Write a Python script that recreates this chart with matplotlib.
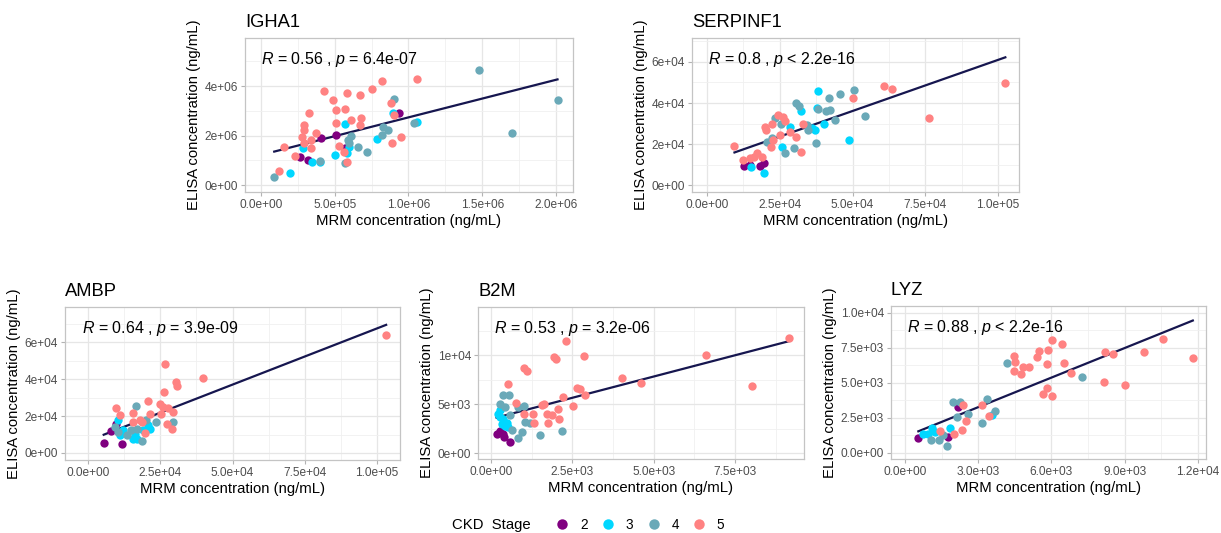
import numpy as np
import matplotlib
matplotlib.use("Agg")
from matplotlib import pyplot as plt
from matplotlib.lines import Line2D
from matplotlib.ticker import AutoMinorLocator

plt.rcParams["font.family"] = ["Liberation Sans", "DejaVu Sans"]
plt.rcParams["mathtext.fontset"] = "custom"
plt.rcParams["mathtext.rm"] = "Liberation Sans"
plt.rcParams["mathtext.it"] = "Liberation Sans:italic"

# CKD stages and their colours
stages = [2, 3, 4, 5]
stage_colors = {2: "#800080", 3: "#00D7FF", 4: "#6AA9B8", 5: "#FF8282"}

# IGHA1 (units of 1e6 ng/mL)
igha1_mrm = {
    2: [0.264, 0.32, 0.41, 0.506, 0.57, 0.935],
    3: [0.197, 0.287, 0.343, 0.40, 0.50, 0.57, 0.58, 0.60, 0.79, 0.897, 1.055],
    4: [0.09, 0.40, 0.57, 0.59, 0.61, 0.60, 0.66, 0.72, 0.82, 0.83, 0.86,
        0.90, 1.04, 1.48, 1.70, 2.01],
    5: [0.158, 0.124, 0.23, 0.325, 0.29, 0.295, 0.28, 0.29, 0.34, 0.34, 0.37,
        0.43, 0.49, 0.51, 0.57, 0.51, 0.53, 0.56, 0.58, 0.585, 0.61, 0.67,
        0.68, 0.67, 0.75, 0.82, 0.88, 0.89, 0.90, 0.95, 1.055],
}
igha1_elisa = {
    2: [1.14, 1.01, 1.89, 2.02, 1.48, 2.90],
    3: [0.47, 1.48, 0.92, 0.92, 1.20, 2.46, 1.28, 1.55, 1.87, 2.90, 2.56],
    4: [0.34, 0.98, 0.88, 1.82, 1.98, 1.68, 1.55, 1.35, 2.02, 2.36, 2.22,
        3.46, 2.49, 4.65, 2.11, 3.43],
    5: [1.55, 0.57, 1.17, 2.93, 2.42, 2.22, 1.93, 1.68, 1.82, 1.48, 2.11,
        3.81, 3.43, 3.03, 3.06, 2.49, 1.58, 1.35, 3.70, 0.94, 2.63, 3.64,
        2.69, 2.42, 3.90, 4.20, 3.33, 1.71, 2.83, 1.93, 4.28],
}

# SERPINF1 (units of 1e4 ng/mL)
serpinf1_mrm = {
    2: [1.26, 1.49, 1.81, 1.97],
    3: [1.51, 1.95, 2.58, 2.84, 3.24, 3.61, 3.72, 3.78, 3.80, 4.01, 4.87],
    4: [2.06, 2.23, 2.35, 2.54, 2.66, 2.98, 3.04, 3.15, 3.44, 3.46, 3.73,
        3.80, 4.10, 4.22, 4.20, 4.38, 4.56, 5.04, 5.44],
    5: [0.94, 1.24, 1.49, 1.72, 1.60, 1.89, 2.00, 2.04, 2.18, 2.23, 2.27,
        2.44, 2.50, 2.61, 2.66, 2.86, 3.07, 3.23, 3.30, 5.00, 6.08, 6.36,
        7.62, 10.25],
}
serpinf1_elisa = {
    2: [0.92, 0.97, 0.94, 1.09],
    3: [0.89, 0.60, 1.86, 2.84, 3.62, 2.76, 2.68, 3.78, 4.59, 2.97, 2.19],
    4: [2.11, 2.27, 3.29, 3.00, 1.54, 1.83, 4.00, 3.84, 2.92, 2.68, 2.06,
        3.73, 3.60, 3.68, 4.26, 3.19, 4.43, 4.65, 3.37],
    5: [1.90, 1.22, 1.30, 1.54, 1.38, 1.38, 2.84, 2.68, 1.86, 3.00, 2.19,
        3.40, 2.43, 3.32, 3.13, 2.59, 2.35, 1.62, 3.00, 4.26, 4.82, 4.70,
        3.28, 4.98],
}

# AMBP (units of 1e4 ng/mL)
ambp_mrm = {
    2: [0.54, 0.81, 1.16, 0.98],
    3: [1.04, 1.10, 1.21, 1.54, 1.62, 1.70, 1.91, 2.08, 2.16],
    4: [0.92, 1.04, 1.33, 1.50, 1.65, 1.70, 1.88, 2.02, 2.35, 2.95],
    5: [0.98, 1.10, 1.56, 1.54, 1.79, 1.85, 1.98, 2.06, 2.16, 2.49, 2.54,
        2.64, 2.66, 2.60, 2.77, 2.74, 2.92, 2.95, 3.06, 3.09, 3.97, 10.32],
}
ambp_elisa = {
    2: [0.54, 1.19, 0.47, 1.59],
    3: [1.80, 0.95, 1.26, 0.77, 1.05, 0.77, 1.23, 1.50, 1.32],
    4: [1.41, 1.14, 0.95, 1.23, 2.54, 1.32, 0.63, 1.80, 1.68, 1.68],
    5: [2.45, 2.04, 2.16, 1.68, 1.77, 1.68, 1.08, 2.79, 2.09, 2.67, 2.09,
        3.30, 4.83, 2.49, 2.45, 1.59, 1.32, 2.22, 3.82, 3.64, 4.07, 6.36],
}

# B2M (units of 1e3 ng/mL)
b2m_mrm = {
    2: [0.17, 0.28, 0.38, 0.41, 0.58],
    3: [0.20, 0.28, 0.33, 0.38, 0.43, 0.48, 0.53, 0.28],
    4: [0.28, 0.38, 0.55, 0.43, 0.58, 0.64, 0.84, 0.84, 1.00, 0.94, 1.04,
        1.20, 1.51, 2.17],
    5: [0.53, 0.76, 1.00, 1.01, 1.10, 1.30, 1.32, 1.56, 1.64, 1.71, 1.74,
        1.86, 1.95, 1.99, 2.05, 2.09, 2.22, 2.30, 2.53, 2.63, 2.74, 2.86,
        2.89, 4.02, 4.60, 6.61, 8.01, 9.16],
}
b2m_elisa = {
    2: [1.98, 2.25, 1.91, 1.64, 1.13],
    3: [3.96, 3.69, 3.00, 3.52, 2.73, 3.07, 2.66, 4.37],
    4: [5.05, 5.90, 5.97, 4.70, 3.86, 2.32, 1.57, 4.70, 4.78, 2.15, 3.17,
        3.07, 1.81, 2.25],
    5: [7.03, 5.12, 4.03, 8.63, 8.36, 4.03, 3.10, 4.88, 4.98, 4.03, 3.10,
        3.86, 9.76, 9.56, 4.54, 3.52, 5.73, 11.43, 4.78, 6.59, 6.55, 9.90,
        5.90, 7.61, 7.17, 10.00, 6.83, 11.70],
}

# LYZ (units of 1e3 ng/mL)
lyz_mrm = {
    2: [0.55, 1.78, 2.16],
    3: [0.75, 0.96, 1.09, 1.23, 1.84, 3.55],
    4: [1.05, 1.41, 1.57, 1.73, 1.98, 2.12, 2.25, 2.60, 3.14, 3.35, 3.69,
        4.17, 7.24],
    5: [1.43, 2.00, 2.32, 2.39, 2.50, 3.14, 3.46, 4.47, 4.51, 4.47, 4.77,
        4.85, 5.10, 5.42, 5.48, 5.64, 5.83, 5.83, 5.86, 6.01, 6.01, 6.44,
        6.52, 6.79, 8.16, 8.21, 8.54, 9.02, 9.81, 10.55, 11.79],
}
lyz_elisa = {
    2: [1.10, 1.15, 3.25],
    3: [1.34, 1.39, 1.75, 1.51, 1.75, 2.70],
    4: [0.91, 0.91, 1.27, 0.48, 3.66, 2.58, 3.66, 2.75, 2.15, 3.83, 2.99,
        6.41, 5.45],
    5: [1.58, 1.34, 1.67, 3.42, 2.30, 3.42, 2.63, 6.94, 6.53, 5.86, 5.62,
        6.17, 6.17, 6.84, 7.32, 4.21, 4.62, 6.36, 7.37, 8.04, 4.07, 7.80,
        6.41, 5.74, 5.05, 7.22, 7.10, 4.83, 7.22, 8.13, 6.75],
}

stat_labels = {
    "IGHA1": r"$\it{R}$ = 0.56 , $\it{p}$ = 6.4e-07",
    "SERPINF1": r"$\it{R}$ = 0.8 , $\it{p}$ < 2.2e-16",
    "AMBP": r"$\it{R}$ = 0.64 , $\it{p}$ = 3.9e-09",
    "B2M": r"$\it{R}$ = 0.53 , $\it{p}$ = 3.2e-06",
    "LYZ": r"$\it{R}$ = 0.88 , $\it{p}$ < 2.2e-16",
}

x_ticks = {
    "IGHA1": ([0, 5e5, 1e6, 1.5e6, 2e6],
              ["0.0e+00", "5.0e+05", "1.0e+06", "1.5e+06", "2.0e+06"]),
    "SERPINF1": ([0, 2.5e4, 5e4, 7.5e4, 1e5],
                 ["0.0e+00", "2.5e+04", "5.0e+04", "7.5e+04", "1.0e+05"]),
    "AMBP": ([0, 2.5e4, 5e4, 7.5e4, 1e5],
             ["0.0e+00", "2.5e+04", "5.0e+04", "7.5e+04", "1.0e+05"]),
    "B2M": ([0, 2.5e3, 5e3, 7.5e3],
            ["0.0e+00", "2.5e+03", "5.0e+03", "7.5e+03"]),
    "LYZ": ([0, 3e3, 6e3, 9e3, 1.2e4],
            ["0.0e+00", "3.0e+03", "6.0e+03", "9.0e+03", "1.2e+04"]),
}
y_ticks = {
    "IGHA1": ([0, 2e6, 4e6], ["0e+00", "2e+06", "4e+06"]),
    "SERPINF1": ([0, 2e4, 4e4, 6e4], ["0e+00", "2e+04", "4e+04", "6e+04"]),
    "AMBP": ([0, 2e4, 4e4, 6e4], ["0e+00", "2e+04", "4e+04", "6e+04"]),
    "B2M": ([0, 5e3, 1e4], ["0e+00", "5e+03", "1e+04"]),
    "LYZ": ([0, 2.5e3, 5e3, 7.5e3, 1e4],
            ["0.0e+00", "2.5e+03", "5.0e+03", "7.5e+03", "1.0e+04"]),
}

W, H = 1221, 533
fig = plt.figure(figsize=(W / 100, H / 100), dpi=100)


def add_panel(name, mrm, elisa, scale, box, xlim, ylim):
    left, top, right, bottom = box
    ax = fig.add_axes([left / W, 1 - bottom / H, (right - left) / W,
                       (bottom - top) / H])

    # all points together for the linear fit
    all_x = np.concatenate([np.array(mrm[s]) for s in stages]) * scale
    all_y = np.concatenate([np.array(elisa[s]) for s in stages]) * scale
    slope, intercept = np.polyfit(all_x, all_y, 1)
    line_x = np.array([all_x.min(), all_x.max()])
    ax.plot(line_x, slope * line_x + intercept, color="#16164F", lw=1.6,
            zorder=2)

    for s in stages:
        ax.scatter(np.array(mrm[s]) * scale, np.array(elisa[s]) * scale,
                   s=36, color=stage_colors[s], linewidths=0, zorder=3)

    ax.set_xlim(xlim)
    ax.set_ylim(ylim)
    ax.set_xticks(x_ticks[name][0])
    ax.set_xticklabels(x_ticks[name][1])
    ax.set_yticks(y_ticks[name][0])
    ax.set_yticklabels(y_ticks[name][1])
    ax.xaxis.set_minor_locator(AutoMinorLocator(2))
    ax.yaxis.set_minor_locator(AutoMinorLocator(2))
    ax.grid(which="major", color="#E6E6E6", lw=0.9, zorder=0)
    ax.grid(which="minor", color="#F0F0F0", lw=0.6, zorder=0)
    ax.set_axisbelow(True)
    ax.tick_params(which="major", length=3, color="#B3B3B3",
                   labelsize=8.6, labelcolor="#4D4D4D", pad=2)
    ax.tick_params(which="minor", length=0)
    for sp in ax.spines.values():
        sp.set_color("#C4C4C4")
        sp.set_linewidth(0.9)

    ax.set_xlabel("MRM concentration (ng/mL)", fontsize=10.7, labelpad=2)
    ax.set_ylabel("ELISA concentration (ng/mL)", fontsize=10.7, labelpad=3)
    ax.set_title(name, loc="left", fontsize=13.2, pad=8)
    ax.text(0.05, 0.86, stat_labels[name], transform=ax.transAxes,
            fontsize=11.5, va="center", ha="left")
    return ax


add_panel("IGHA1", igha1_mrm, igha1_elisa, 1e6, (245, 38, 573, 192),
          (-0.108e6, 2.115e6), (-0.28e6, 5.94e6))
add_panel("SERPINF1", serpinf1_mrm, serpinf1_elisa, 1e4, (692, 38, 1019, 192),
          (-0.52e4, 10.72e4), (-0.34e4, 7.17e4))
add_panel("AMBP", ambp_mrm, ambp_elisa, 1e4, (65, 307, 400, 460),
          (-0.8e4, 10.8e4), (-0.38e4, 7.9e4))
add_panel("B2M", b2m_mrm, b2m_elisa, 1e3, (478, 307, 804, 459),
          (-0.4e3, 9.62e3), (-0.61e3, 14.9e3))
add_panel("LYZ", lyz_mrm, lyz_elisa, 1e3, (891, 306, 1206, 459),
          (-0.57e3, 12.33e3), (-0.43e3, 10.5e3))

# legend along the bottom
handles = [Line2D([], [], marker="o", ls="", color=stage_colors[s],
                  markersize=7.5, markeredgewidth=0) for s in stages]
fig.legend(handles, [str(s) for s in stages], ncol=4, loc="center",
           bbox_to_anchor=(640 / W, 1 - 525 / H), frameon=False,
           fontsize=9.8, handlelength=1.0, handletextpad=0.8,
           columnspacing=1.0, borderpad=0, borderaxespad=0)
fig.text(452 / W, 1 - 525 / H, "CKD  Stage", fontsize=10.7, va="center",
         ha="left")

plt.savefig("out.png", dpi=100)
